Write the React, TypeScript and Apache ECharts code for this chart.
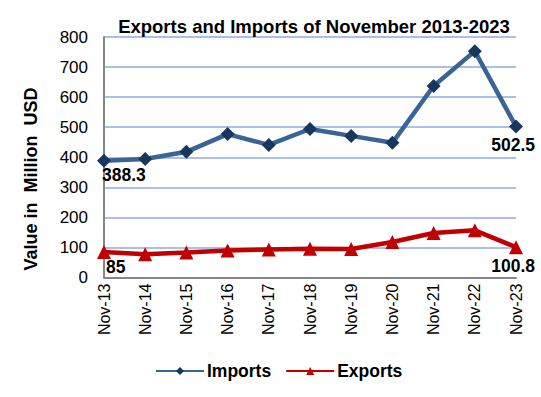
import React, { useEffect, useRef } from "react";
import * as echarts from "echarts";

const categories = ["Nov-13", "Nov-14", "Nov-15", "Nov-16", "Nov-17", "Nov-18", "Nov-19", "Nov-20", "Nov-21", "Nov-22", "Nov-23"];
const imports = [388.3, 394, 418, 477, 441, 494, 471, 448, 637, 753, 502.5];
const exports_ = [85, 77, 83, 90, 93, 96, 95, 118, 148, 157, 100.8];
const yTicks = [0, 100, 200, 300, 400, 500, 600, 700, 800];

const FONT = "Liberation Sans, Arial, sans-serif";

export default function App() {
  const ref = useRef<HTMLDivElement>(null);
  useEffect(() => {
    if (!ref.current) return;
    const chart = echarts.init(ref.current, null, { renderer: "svg" });
    const lastIdx = categories.length - 1;
    const labelFor = (vals: number[], firstDist: number, lastDist: number, firstOff: number) =>
      vals.map((v, i) =>
        i === 0 || i === lastIdx
          ? {
              value: v,
              label: {
                show: true,
                position: "bottom",
                distance: i === 0 ? firstDist : lastDist,
                align: i === 0 ? "left" : "right",
                offset: i === 0 ? [firstOff, 0] : [19, 0],
                fontFamily: FONT,
                fontSize: 17.5,
                fontWeight: "bold",
                color: "#000",
                formatter: String(v),
              },
            }
          : v
      );
    chart.setOption({
      animation: false,
      backgroundColor: "#fff",
      title: {
        text: "Exports and Imports of November 2013-2023",
        left: 309,
        textAlign: "center",
        top: 12,
        textStyle: { fontFamily: FONT, fontSize: 18.5, fontWeight: "bold", color: "#000" },
      },
      graphic: [
        {
          type: "text",
          x: 31,
          y: 179,
          rotation: Math.PI / 2,
          style: {
            text: "Value in  Million  USD",
            fontFamily: FONT,
            fontSize: 18,
            fontWeight: "bold",
            fill: "#000",
            align: "center",
            verticalAlign: "middle",
          },
        },
      ],
      grid: { left: 104, right: 25, top: 37, bottom: 119.5, containLabel: false },
      legend: {
        top: 357,
        left: 150,
        itemWidth: 48,
        itemHeight: 10,
        itemGap: 14,
        textStyle: { fontFamily: FONT, fontSize: 17.5, fontWeight: "bold", color: "#000", padding: [0, 0, 0, -2] },
        data: ["Imports", "Exports"],
      },
      xAxis: {
        type: "category",
        data: categories,
        boundaryGap: false,
        axisLine: { lineStyle: { color: "#868686", width: 2 } },
        axisTick: { show: false },
        axisLabel: { rotate: 90, fontFamily: FONT, fontSize: 16, color: "#000", margin: 6 },
        splitLine: { show: false },
      },
      yAxis: {
        type: "value",
        min: yTicks[0],
        max: yTicks[yTicks.length - 1],
        interval: 100,
        axisLine: { show: true, lineStyle: { color: "#868686", width: 2 } },
        axisTick: { show: false },
        axisLabel: { fontFamily: FONT, fontSize: 17, color: "#000", margin: 16 },
        splitLine: { lineStyle: { color: "#A9C0E8", width: 2 } },
      },
      series: [
        {
          name: "Imports",
          type: "line",
          data: labelFor(imports, -2, 3, -2),
          symbol: "diamond",
          symbolSize: 14,
          lineStyle: { color: "#3A6496", width: 4.5 },
          itemStyle: { color: "#17375E" },
          z: 3,
        },
        {
          name: "Exports",
          type: "line",
          data: labelFor(exports_, -1, 3, 2),
          symbol: "triangle",
          symbolSize: 14,
          lineStyle: { color: "#C00000", width: 4.5 },
          itemStyle: { color: "#C00000" },
          z: 3,
        },
      ],
    });
    return () => chart.dispose();
  }, []);
  return <div ref={ref} style={{ width: 541, height: 397, position: "absolute", left: 0, top: 0 }} />;
}
